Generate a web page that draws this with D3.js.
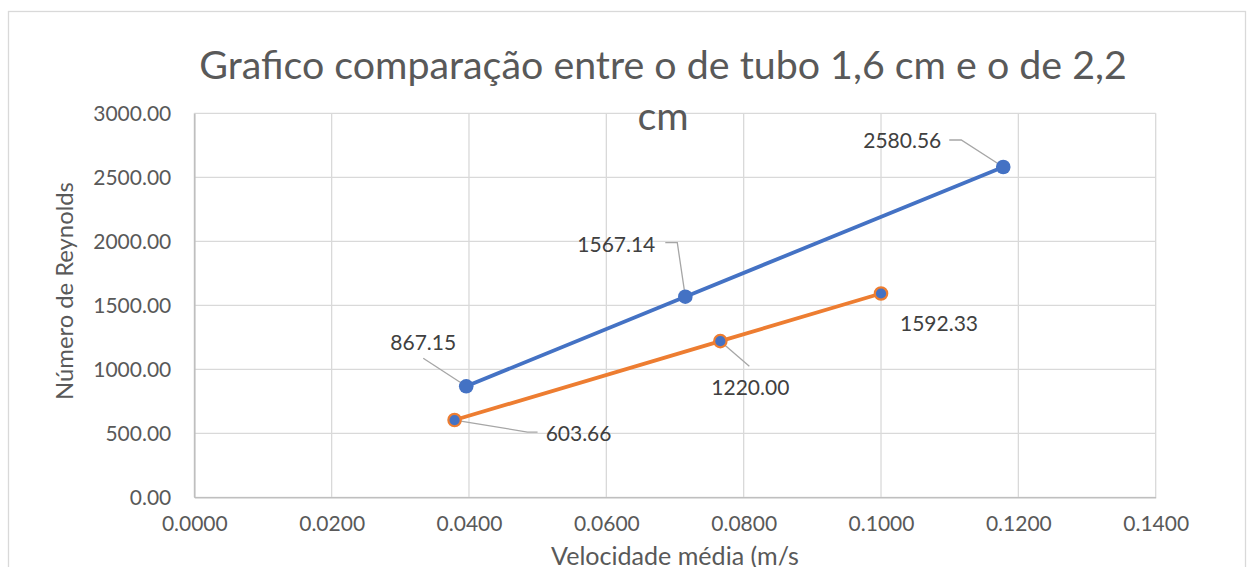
<!DOCTYPE html>
<html>
<head>
<meta charset="utf-8">
<script src="https://cdn.jsdelivr.net/npm/d3@7"></script>
<style>
  html, body { margin: 0; padding: 0; background: #fff; overflow: hidden; }
  svg { display: block; }
  text { font-family: Lato, "Open Sans", sans-serif; }
</style>
</head>
<body>
<svg id="chart" width="1248" height="567"></svg>
<script>
// ---- data ----
const titleLines = ["Grafico comparação entre o de tubo 1,6 cm e o de 2,2", "cm"];
const xAxisTitle = "Velocidade média (m/s";
const yAxisTitle = "Número de Reynolds";
const xTickValues = [0, 0.02, 0.04, 0.06, 0.08, 0.10, 0.12, 0.14];
const yTickValues = [0, 500, 1000, 1500, 2000, 2500, 3000];
const seriesNames = ["Tubo 2,2 cm", "Tubo 1,6 cm"];
const velocity22 = [0.0396, 0.0715, 0.1178];
const reynolds22 = [867.15, 1567.14, 2580.56];
const velocity16 = [0.0379, 0.0766, 0.1000];
const reynolds16 = [603.66, 1220.00, 1592.33];

// ---- layout (not data) ----
const W = 1248, H = 567;
const plot = { left: 194.3, right: 1155.7, top: 113.3, bottom: 497.3 };
const colors = ["#4472C4", "#ED7D31"];
const labelLayout = [
  [ { dx: -43, dy: -44, leader: [[0,0],[-43,-28]] },
    { dx: -69, dy: -52, leader: [[0,0],[-8,-54],[-20,-54]] },
    { dx: -101, dy: -27, leader: [[0,0],[-42,-27],[-54,-27]] } ],
  [ { dx: 124, dy: 13, leader: [[0,0],[73,12],[83,12]] },
    { dx: 30, dy: 46, leader: [[0,0],[29,25]] },
    { dx: 58, dy: 30, leader: null } ]
];

const svg = d3.select("#chart");

const x = d3.scaleLinear().domain([0, 0.14]).range([plot.left, plot.right]);
const y = d3.scaleLinear().domain([0, 3000]).range([plot.bottom, plot.top]);

// outer chart border
svg.append("rect")
  .attr("x", 8.5).attr("y", 11.5)
  .attr("width", 1237).attr("height", 600)
  .attr("fill", "#fff").attr("stroke", "#d9d9d9").attr("stroke-width", 1.3);

// gridlines
const grid = svg.append("g");
grid.selectAll(".gx").data(xTickValues).join("line")
  .attr("x1", d => x(d)).attr("x2", d => x(d))
  .attr("y1", plot.top).attr("y2", plot.bottom)
  .attr("stroke", "#d9d9d9").attr("stroke-width", 1.3);
grid.selectAll(".gy").data(yTickValues).join("line")
  .attr("x1", plot.left).attr("x2", plot.right)
  .attr("y1", d => y(d)).attr("y2", d => y(d))
  .attr("stroke", "#d9d9d9").attr("stroke-width", 1.3);

// axes
const fmtX = d3.format(".4f");
const fmtY = d3.format(".2f");
const xAxis = svg.append("g")
  .attr("transform", `translate(0,${plot.bottom})`)
  .call(d3.axisBottom(x).tickValues(xTickValues).tickFormat(fmtX).tickSize(0).tickPadding(30));
const yAxis = svg.append("g")
  .attr("transform", `translate(${plot.left},0)`)
  .call(d3.axisLeft(y).tickValues(yTickValues).tickFormat(fmtY).tickSize(0).tickPadding(23));
[xAxis, yAxis].forEach(a => {
  a.select(".domain").attr("stroke", "#bfbfbf").attr("stroke-width", 1.6);
  a.selectAll("text").attr("fill", "#595959").style("font-size", "21px").attr("font-family", "Lato");
});
xAxis.selectAll("text").attr("dy", "0.2em");

// lines
const lineGen = d3.line().x(d => x(d[0])).y(d => y(d[1]));
const series = [
  d3.zip(velocity22, reynolds22),
  d3.zip(velocity16, reynolds16)
];
series.forEach((s, i) => {
  svg.append("path").datum(s)
    .attr("d", lineGen)
    .attr("fill", "none")
    .attr("stroke", colors[i])
    .attr("stroke-width", 3.8)
    .attr("stroke-linecap", "round");
});

// leader lines
series.forEach((s, i) => {
  s.forEach((d, j) => {
    const L = labelLayout[i][j];
    if (!L.leader) return;
    const px = x(d[0]), py = y(d[1]);
    svg.append("polyline")
      .attr("points", L.leader.map(p => `${px + p[0]},${py + p[1]}`).join(" "))
      .attr("fill", "none").attr("stroke", "#a6a6a6").attr("stroke-width", 1.3);
  });
});

// markers
series.forEach((s, i) => {
  svg.append("g").selectAll("circle").data(s).join("circle")
    .attr("cx", d => x(d[0])).attr("cy", d => y(d[1]))
    .attr("r", i === 0 ? 7.3 : 6.2)
    .attr("fill", "#4472C4")
    .attr("stroke", colors[i])
    .attr("stroke-width", i === 0 ? 0 : 2.2);
});

// data labels
series.forEach((s, i) => {
  s.forEach((d, j) => {
    const L = labelLayout[i][j];
    svg.append("text")
      .attr("x", x(d[0]) + L.dx).attr("y", y(d[1]) + L.dy)
      .attr("text-anchor", "middle").attr("dy", "0.36em")
      .attr("fill", "#404040").style("font-size", "21px")
      .text(fmtY(d[1]));
  });
});

function fit(sel, target) {
  const len = sel.node().getComputedTextLength();
  const fs = parseFloat(sel.style("font-size"));
  sel.style("font-size", (fs * target / len) + "px");
}

// title
const t1 = svg.append("text").attr("x", 663).attr("y", 79).attr("text-anchor", "middle")
  .attr("fill", "#595959").style("font-size", "40px").text(titleLines[0]);
fit(t1, 928);
const t2 = svg.append("text").attr("x", 663).attr("y", 130).attr("text-anchor", "middle")
  .attr("fill", "#595959").style("font-size", t1.style("font-size")).text(titleLines[1]);

// axis titles
const yt = svg.append("text")
  .attr("transform", `translate(73,291) rotate(-90)`)
  .attr("text-anchor", "middle").attr("fill", "#595959").style("font-size", "22px")
  .text(yAxisTitle);
fit(yt, 218);
const xt = svg.append("text")
  .attr("x", 675).attr("y", 565).attr("text-anchor", "middle")
  .attr("fill", "#595959").style("font-size", "24px").text(xAxisTitle);
fit(xt, 248);
</script>
</body>
</html>
